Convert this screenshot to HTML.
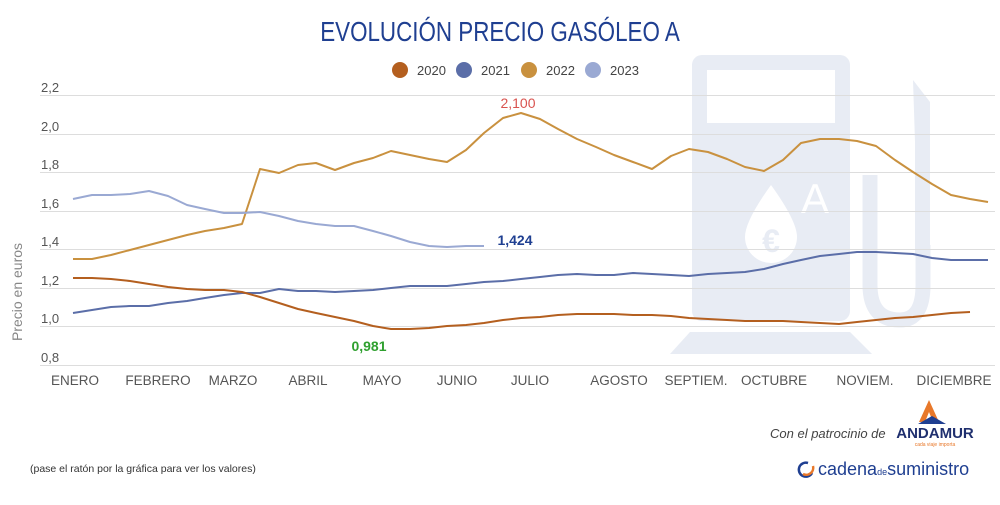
<!DOCTYPE html>
<html><head><meta charset="utf-8"><style>
body{margin:0;background:#fff;width:1000px;height:500px;overflow:hidden;font-family:"Liberation Sans",sans-serif}
</style></head><body>
<svg width="1000" height="500" xmlns="http://www.w3.org/2000/svg" font-family="Liberation Sans, sans-serif">
<!-- watermark -->
<g fill="#e8ecf4">
<rect x="692" y="55" width="158" height="266" rx="10"/>
<path d="M690 332 h160 l22 22 h-202z"/>
<rect x="915" y="140" width="15" height="115"/>
<path d="M913 80 l17 22 v40 h-15z"/>
<path d="M870 175 q0 0 0 0 v110 q0 35 30 35 q23 0 23 -35 v-40" fill="none" stroke="#e8ecf4" stroke-width="15"/>
</g>
<rect x="707" y="70" width="128" height="53" fill="#fff"/>
<path d="M771 185 q-26 36 -26 52 a26 26 0 0 0 52 0 q0 -16 -26 -52z" fill="#fff"/>
<text x="771" y="252" font-size="32" fill="#e8ecf4" text-anchor="middle" font-weight="bold">€</text>
<text x="815" y="213" font-size="42" fill="#fff" text-anchor="middle">A</text>
<!-- title -->
<text x="500" y="41" font-family="Liberation Sans Narrow, Liberation Sans, sans-serif" font-size="28" fill="#1f3f91" text-anchor="middle" transform="translate(500,0) scale(0.8,1) translate(-500,0)">EVOLUCIÓN PRECIO GASÓLEO A</text>
<!-- legend -->
<g font-size="13" fill="#444">
<circle cx="400" cy="70" r="8" fill="#b45f1f"/><text x="417" y="75">2020</text>
<circle cx="464" cy="70" r="8" fill="#5b6ea8"/><text x="481" y="75">2021</text>
<circle cx="529" cy="70" r="8" fill="#c9913f"/><text x="546" y="75">2022</text>
<circle cx="593" cy="70" r="8" fill="#9aa9d3"/><text x="610" y="75">2023</text>
</g>
<!-- grid -->
<g stroke="#dddddd" stroke-width="1">
<line x1="40" x2="995" y1="95.5" y2="95.5"/><line x1="40" x2="995" y1="134.5" y2="134.5"/>
<line x1="40" x2="995" y1="172.5" y2="172.5"/><line x1="40" x2="995" y1="211.5" y2="211.5"/>
<line x1="40" x2="995" y1="249.5" y2="249.5"/><line x1="40" x2="995" y1="288.5" y2="288.5"/>
<line x1="40" x2="995" y1="326.5" y2="326.5"/><line x1="40" x2="995" y1="365.5" y2="365.5"/>
</g>
<g font-size="13" fill="#555">
<text x="41" y="92">2,2</text><text x="41" y="131">2,0</text><text x="41" y="169">1,8</text>
<text x="41" y="208">1,6</text><text x="41" y="246">1,4</text><text x="41" y="285">1,2</text>
<text x="41" y="323">1,0</text><text x="41" y="362">0,8</text>
</g>
<text transform="translate(22,292) rotate(-90)" font-size="14" fill="#888" text-anchor="middle">Precio en euros</text>
<g font-size="13.5" fill="#555" text-anchor="middle">
<text x="75" y="385">ENERO</text><text x="158" y="385">FEBRERO</text><text x="233" y="385">MARZO</text>
<text x="308" y="385">ABRIL</text><text x="382" y="385">MAYO</text><text x="457" y="385">JUNIO</text>
<text x="530" y="385">JULIO</text><text x="619" y="385">AGOSTO</text><text x="696" y="385">SEPTIEM.</text>
<text x="774" y="385">OCTUBRE</text><text x="865" y="385">NOVIEM.</text><text x="954" y="385">DICIEMBRE</text>
</g>
<g fill="none" stroke-width="2" stroke-linejoin="round">
<polyline stroke="#c9913f" points="73,259 92,259 111,255 130,250 149,245 168,240 187,235 205,231 224,228 242,224 260,169 279,173 298,165 316,163 335,170 354,163 373,158 391,151 410,155 429,159 447,162 466,150 484,133 503,118 521,113 540,119 558,129 577,139 596,147 614,155 633,162 652,169 671,156 689,149 708,152 727,159 745,167 764,171 783,160 801,143 820,139 839,139 857,141 876,146 895,160 913,172 932,184 951,195 970,199 988,202"/>
<polyline stroke="#9aa9d3" points="73,199 92,195 111,195 130,194 149,191 168,196 187,205 205,209 224,213 242,213 260,212 279,216 298,221 316,224 335,226 354,226 373,231 391,236 410,242 429,246 447,247 466,246 484,246"/>
<polyline stroke="#5b6ea8" points="73,313 92,310 111,307 130,306 149,306 168,303 187,301 205,298 224,295 242,293 260,293 279,289 298,291 316,291 335,292 354,291 373,290 391,288 410,286 429,286 447,286 466,284 484,282 503,281 521,279 540,277 558,275 577,274 596,275 614,275 633,273 652,274 671,275 689,276 708,274 727,273 745,272 764,269 783,264 801,260 820,256 839,254 857,252 876,252 895,253 913,254 932,258 951,260 970,260 988,260"/>
<polyline stroke="#b45f1f" points="73,278 92,278 111,279 130,281 149,284 168,287 187,289 205,290 224,290 242,292 260,297 279,303 298,309 316,313 335,317 354,321 373,326 391,329 410,329 429,328 447,326 466,325 484,323 503,320 521,318 540,317 558,315 577,314 596,314 614,314 633,315 652,315 671,316 689,318 708,319 727,320 745,321 764,321 783,321 801,322 820,323 839,324 857,322 876,320 895,318 913,317 932,315 951,313 970,312"/>
</g>
<text x="518" y="108" font-size="14" fill="#d9534f" text-anchor="middle">2,100</text>
<text x="515" y="245" font-size="14" fill="#1f3f91" text-anchor="middle" font-weight="bold">1,424</text>
<text x="369" y="351" font-size="14" fill="#2fa02f" text-anchor="middle" font-weight="bold">0,981</text>
<!-- footer -->
<text x="770" y="438" font-size="13" fill="#444" font-style="italic">Con el patrocinio de</text>
<path d="M929 400 l-10 22 h6 l4 -10 l4 10 h6z" fill="#e8782a"/>
<path d="M918 424 l14 -8 l14 8z" fill="#1f3f91"/>
<text x="935" y="438" font-size="15" font-weight="bold" fill="#1f2f6e" text-anchor="middle">ANDAMUR</text>
<text x="935" y="446" font-size="5" fill="#e8782a" text-anchor="middle">cada viaje importa</text>
<text x="30" y="472" font-size="10.5" fill="#333">(pase el ratón por la gráfica para ver los valores)</text>
<path d="M808 463 a7 7 0 1 0 4 10" fill="none" stroke="#1f3f91" stroke-width="2.5"/>
<path d="M803 474 a7 7 0 0 0 10 -8" fill="none" stroke="#e8782a" stroke-width="2.5"/>
<text x="818" y="475" font-size="18" fill="#1f3f91">cadena<tspan font-size="9">de</tspan>suministro</text>
</svg>
</body></html>
